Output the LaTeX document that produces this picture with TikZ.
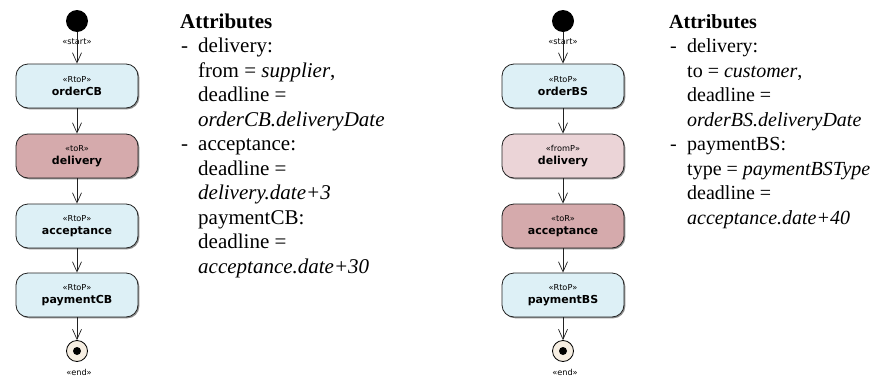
\documentclass[tikz,border=0pt]{standalone}
\usepackage{fontspec}
\setmainfont{Liberation Serif}
\newfontfamily\umlfont{DejaVu Sans}
\usetikzlibrary{arrows.meta,shadows}
\definecolor{rtopc}{HTML}{DDF0F6}
\definecolor{torc}{HTML}{D5AAAC}
\definecolor{frompc}{HTML}{EBD4D7}
\definecolor{endfill}{HTML}{F6EEE2}
\definecolor{edgec}{HTML}{222222}
\newcommand\actlabel[2]{{\fontsize{8.2}{10}\selectfont #1}\\[1pt]{\fontsize{11}{13}\selectfont\bfseries #2}}
\begin{document}
\begin{tikzpicture}[x=1pt,y=-1pt,
  act/.style={draw=edgec, line width=0.8pt, rounded corners=12pt,
    minimum width=122pt, minimum height=44pt, align=center, inner sep=0pt,
    font=\umlfont, drop shadow={shadow xshift=1.3pt, shadow yshift=-1.3pt, fill=black!55, opacity=0.8}},
  stereo/.style={font=\umlfont\fontsize{8.2}{10}\selectfont},
  startc/.style={circle, fill=black, minimum size=22pt, inner sep=0pt},
  endc/.style={circle, fill=endfill, draw=black, line width=0.8pt, minimum size=21pt, inner sep=0pt},
  enddot/.style={circle, fill=black, minimum size=8pt, inner sep=0pt},
  flow/.style={draw=edgec, line width=0.7pt, -{Straight Barb[length=10pt,width=9pt,line width=0.7pt]}},
  txt/.style={anchor=base west, inner sep=0pt, font=\fontsize{21}{24.5}\selectfont},
  txtr/.style={anchor=base west, inner sep=0pt, font=\fontsize{20}{24}\selectfont}
]
\useasboundingbox (0,0) rectangle (876,378);
\fill[white] (0,0) rectangle (876,378);

% ---------- left diagram ----------
\node[startc] (ls) at (77,21) {};
\node[stereo] (lsl) at (77,42) {«start»};
\node[act, fill=rtopc] (l1) at (77,86) {\actlabel{«RtoP»}{orderCB}};
\node[act, fill=torc] (l2) at (77,156) {\actlabel{«toR»}{delivery}};
\node[act, fill=rtopc] (l3) at (77,226) {\actlabel{«RtoP»}{acceptance}};
\node[act, fill=rtopc] (l4) at (77,295) {\actlabel{«RtoP»}{paymentCB}};
\node[endc] (le) at (77,351) {};
\node[enddot] (led) at (le) {};
\node[stereo] (lel) at (79,372) {«end»};
\draw[flow] (ls) -- (l1);
\draw[flow] (l1) -- (l2);
\draw[flow] (l2) -- (l3);
\draw[flow] (l3) -- (l4);
\draw[flow] (l4) -- (le);

% ---------- right diagram ----------
\node[startc] (rs) at (563,21) {};
\node[stereo] (rsl) at (563,42) {«start»};
\node[act, fill=rtopc] (r1) at (563,86) {\actlabel{«RtoP»}{orderBS}};
\node[act, fill=frompc] (r2) at (563,156) {\actlabel{«fromP»}{delivery}};
\node[act, fill=torc] (r3) at (563,226) {\actlabel{«toR»}{acceptance}};
\node[act, fill=rtopc] (r4) at (563,295) {\actlabel{«RtoP»}{paymentBS}};
\node[endc] (re) at (563,351) {};
\node[enddot] (red) at (re) {};
\node[stereo] (rel) at (565,372) {«end»};
\draw[flow] (rs) -- (r1);
\draw[flow] (r1) -- (r2);
\draw[flow] (r2) -- (r3);
\draw[flow] (r3) -- (r4);
\draw[flow] (r4) -- (re);

% ---------- left attributes ----------
\node[txt] (la0) at (180,28) {\textbf{Attributes}};
\node[txt] (la1) at (181,52.5) {\makebox[17pt][l]{-}delivery:};
\node[txt] (la2) at (198,77) {from = \textit{supplier},};
\node[txt] (la3) at (198,101.5) {deadline =};
\node[txt] (la4) at (198,126) {\textit{orderCB.deliveryDate}};
\node[txt] (la5) at (181,150.5) {\makebox[17pt][l]{-}acceptance:};
\node[txt] (la6) at (198,175) {deadline =};
\node[txt] (la7) at (198,199.5) {\textit{delivery.date+3}};
\node[txt] (la8) at (198,224) {paymentCB:};
\node[txt] (la9) at (198,248.5) {deadline =};
\node[txt] (la10) at (198,273) {\textit{acceptance.date+30}};

% ---------- right attributes ----------
\node[txtr] (ra0) at (669,28) {\textbf{Attributes}};
\node[txtr] (ra1) at (670,52.5) {\makebox[17pt][l]{-}delivery:};
\node[txtr] (ra2) at (687,77) {to = \textit{customer},};
\node[txtr] (ra3) at (687,101.5) {deadline =};
\node[txtr] (ra4) at (687,126) {\textit{orderBS.deliveryDate}};
\node[txtr] (ra5) at (670,150.5) {\makebox[17pt][l]{-}paymentBS:};
\node[txtr] (ra6) at (687,175) {type = \textit{paymentBSType}};
\node[txtr] (ra7) at (687,199.5) {deadline =};
\node[txtr] (ra8) at (687,224) {\textit{acceptance.date+40}};
\end{tikzpicture}
\end{document}
